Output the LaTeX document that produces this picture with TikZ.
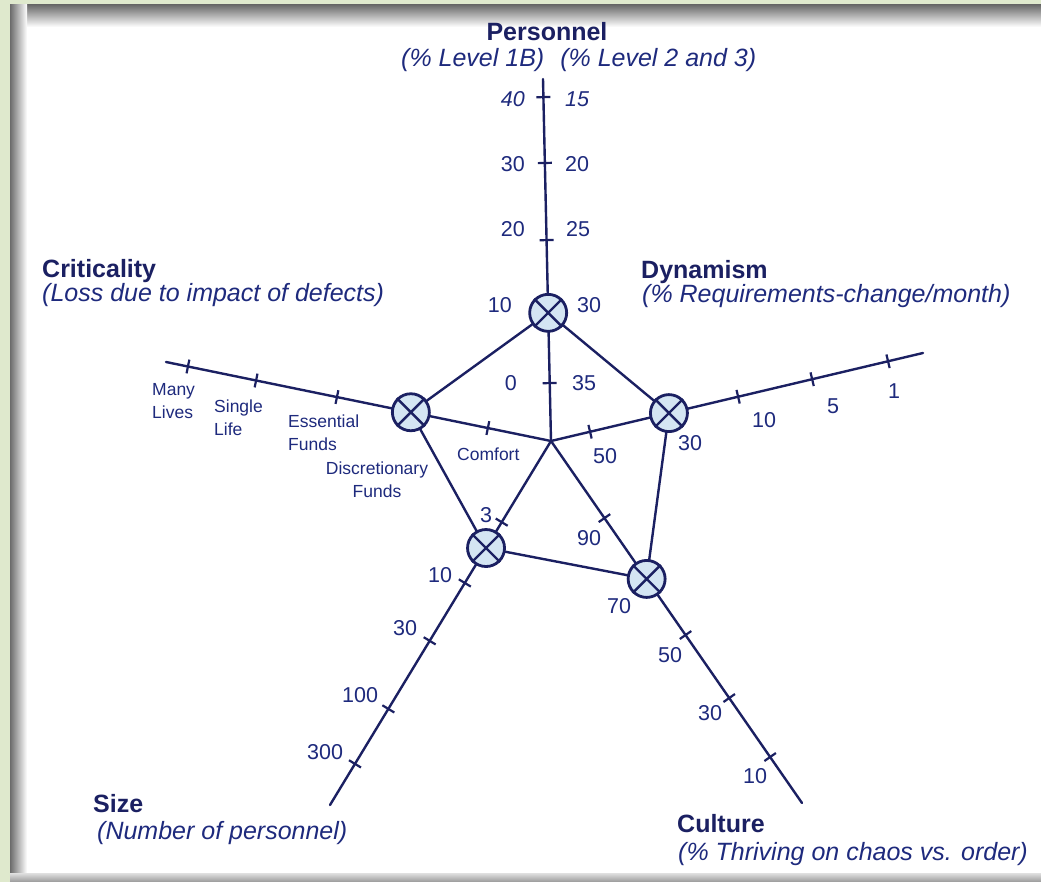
\documentclass[tikz,border=0pt]{standalone}
\usepackage{fontspec}
\setmainfont{Liberation Sans}
\usetikzlibrary{calc}

\definecolor{ink}{RGB}{27,32,98}
\definecolor{txt}{RGB}{30,42,125}
\definecolor{dialfill}{RGB}{212,229,243}
\definecolor{leaf}{RGB}{223,233,205}

% tick mark across an axis: start, end, position along the axis
\newcommand\axmark[3]{%
  \path (#1) -- (#2) coordinate[pos=#3] (tk);
  \draw[tickline] ($(tk)!7pt!90:(#2)$) -- ($(tk)!7pt!-90:(#2)$);}

\tikzset{
  axis/.style={draw=ink, line width=2.4pt, line cap=round},
  tickline/.style={draw=ink, line width=2.2pt},
  dial/.style={circle, draw=ink, fill=dialfill, line width=2.8pt,
               minimum size=37pt, inner sep=0pt},
  cross/.style={draw=ink, line width=2.4pt},
  lab/.style={text=txt, inner sep=0pt},
  head/.style={lab, text=ink, font=\fontsize{25}{30}\selectfont\bfseries},
  sub/.style={lab, font=\fontsize{25}{30}\selectfont\itshape},
  num/.style={lab, font=\fontsize{21.5}{25}\selectfont},
  inum/.style={lab, font=\fontsize{21.5}{25}\selectfont\itshape},
  small/.style={lab, font=\fontsize{17.5}{23}\selectfont, align=left},
}

\begin{document}
\begin{tikzpicture}[x=1pt, y=-1pt]
\useasboundingbox (0,0) rectangle (1041,882);

% page background and inner shadow of the panel
\fill[leaf] (0,0) rectangle (1041,882);
\fill[white] (10,5) rectangle (1041,873);
\shade[top color=black!58, bottom color=white] (10,5) rectangle (1041,27);
\shade[left color=black!58, right color=white] (10,5) rectangle (27,873);
\shade[top color=black!12, bottom color=black!40] (10,873) rectangle (1041,882);

% hub and axis ends
\coordinate (c)  at (551,441);
\coordinate (pe) at (543,79);
\coordinate (ce) at (166,362);
\coordinate (de) at (923,353);
\coordinate (ue) at (802,803);
\coordinate (se) at (330,805);

% dial positions on the axes
\path (c) -- (pe) coordinate[pos=0.354] (pd);
\path (c) -- (ce) coordinate[pos=0.364] (cd);
\path (c) -- (de) coordinate[pos=0.317] (dd);
\path (c) -- (ue) coordinate[pos=0.381] (ud);
\path (c) -- (se) coordinate[pos=0.294] (sd);

% axes
\draw[axis] (c) -- (pe);
\draw[axis] (c) -- (ce);
\draw[axis] (c) -- (de);
\draw[axis] (c) -- (ue);
\draw[axis] (c) -- (se);

% profile polygon
\draw[axis] (pd) -- (cd) -- (sd) -- (ud) -- (dd) -- cycle;

% tick marks
\axmark{c}{pe}{0.950}\axmark{c}{pe}{0.768}\axmark{c}{pe}{0.555}\axmark{c}{pe}{0.160}
\axmark{c}{ce}{0.943}\axmark{c}{ce}{0.766}\axmark{c}{ce}{0.556}\axmark{c}{ce}{0.164}
\axmark{c}{de}{0.105}\axmark{c}{de}{0.503}\axmark{c}{de}{0.702}\axmark{c}{de}{0.906}
\axmark{c}{ue}{0.213}\axmark{c}{ue}{0.536}\axmark{c}{ue}{0.710}\axmark{c}{ue}{0.873}
\axmark{c}{se}{0.223}\axmark{c}{se}{0.390}\axmark{c}{se}{0.549}\axmark{c}{se}{0.736}\axmark{c}{se}{0.887}

% dials
\foreach \d in {pd,cd,dd,ud,sd}{
  \node[dial] (\d n) at (\d) {};
  \draw[cross] (\d n.north west) -- (\d n.south east)
               (\d n.north east) -- (\d n.south west);
}

% Personnel axis
\node[head, anchor=base] (hp) at (547,41) {Personnel};
\node[sub, anchor=base west] (sp) at (401,67) {(\% Level 1B)\hspace{16pt}(\% Level 2 and 3)};
\node[inum, anchor=base east] at (525,107) {40};
\node[inum, anchor=base west] at (565,107) {15};
\node[num, anchor=base east] at (525,172) {30};
\node[num, anchor=base west] at (565,172) {20};
\node[num, anchor=base east] at (525,237) {20};
\node[num, anchor=base west] at (566,237) {25};
\node[num, anchor=base east] at (512,313) {10};
\node[num, anchor=base west] at (577,313) {30};
\node[num, anchor=base east] at (517,390) {0};
\node[num, anchor=base west] at (572,390) {35};

% Criticality axis
\node[head, anchor=base west] (hc) at (42,278) {Criticality};
\node[sub, anchor=base west] (sc) at (42,302) {(Loss due to impact of defects)};
\node[small, anchor=north west] at (152,383) {Many\\Lives};
\node[small, anchor=north west] at (214,400) {Single\\Life};
\node[small, anchor=north west] at (288,415) {Essential\\Funds};
\node[small, anchor=north, align=center] at (377,462) {Discretionary\\Funds};
\node[small, anchor=base west] at (457,460) {Comfort};

% Dynamism axis
\node[head, anchor=base west] (hd) at (641,279) {Dynamism};
\node[sub, anchor=base west] (sd2) at (642,303) {(\% Requirements-change/month)};
\node[num, anchor=base west] at (593,463) {50};
\node[num, anchor=base west] at (678,450) {30};
\node[num, anchor=base west] at (752,427) {10};
\node[num, anchor=base west] at (827,413) {5};
\node[num, anchor=base west] at (888,398) {1};

% Culture axis
\node[head, anchor=base west] (hu) at (677,832) {Culture};
\node[sub, anchor=base west] (su) at (678,860) {(\% Thriving on chaos vs. order)};
\node[num, anchor=base west] at (577,545) {90};
\node[num, anchor=base west] at (607,613) {70};
\node[num, anchor=base west] at (658,662) {50};
\node[num, anchor=base west] at (698,720) {30};
\node[num, anchor=base west] at (743,783) {10};

% Size axis
\node[head, anchor=base west] (hs) at (93,812) {Size};
\node[sub, anchor=base west] (ss) at (97,839) {(Number of personnel)};
\node[num, anchor=base west] at (480,522) {3};
\node[num, anchor=base west] at (428,582) {10};
\node[num, anchor=base west] at (393,635) {30};
\node[num, anchor=base west] at (342,702) {100};
\node[num, anchor=base west] at (307,759) {300};
\end{tikzpicture}
\end{document}
